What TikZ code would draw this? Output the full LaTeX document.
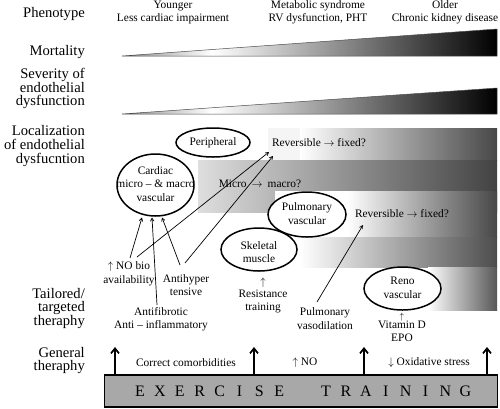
\documentclass[tikz,border=0pt]{standalone}
\usepackage{fontspec}
\setmainfont{Liberation Serif}
\usetikzlibrary{arrows.meta,shapes.geometric}
\pgfdeclarehorizontalshading{wedgeshade}{100bp}{color(0bp)=(black!45); color(25bp)=(black!45); color(37bp)=(white); color(75bp)=(black); color(100bp)=(black)}
\begin{document}
\begin{tikzpicture}[x=1pt,y=-1pt,
  lab/.style={font=\fontsize{14.6}{13.7}\selectfont, align=right, anchor=east, inner sep=0pt},
  txt/.style={font=\fontsize{11.4}{13.5}\selectfont, align=center, inner sep=0pt},
  ell/.style={ellipse, draw, line width=1.5pt, fill=white, inner sep=0pt},
  thinarrow/.style={line width=0.7pt, -{Straight Barb[length=3pt,width=3.5pt]}},
  bigarrow/.style={line width=1.7pt, -{Straight Barb[length=5pt,width=8pt]}},
  exl/.style={font=\fontsize{16}{16}\selectfont, inner sep=0pt}
]
\useasboundingbox (0,0) rectangle (500,408);

% ---- background bands ----
\fill[black!4] (268,128) rectangle (300,160);
\shade[left color=white,right color=black!72] (300,128) rectangle (497,160);
\shade[left color=black!13,right color=black!74] (198,160) rectangle (497,212);
\fill[white] (275,191) rectangle (347,237);
\shade[left color=white,right color=black!72] (347,191) rectangle (497,237);
\shade[left color=white,right color=black!70] (300,237) rectangle (497,267);
\shade[left color=white,right color=black!66] (428,267) rectangle (497,310);

% ---- wedges ----
\shade[shading=wedgeshade] (122,56) -- (497,29) -- (497,56) -- cycle;
\draw[black!70,line width=0.5pt] (122,56) -- (497,29) -- (497,56) -- cycle;
\shade[shading=wedgeshade] (122,114) -- (497,88) -- (497,114) -- cycle;
\draw[black!70,line width=0.5pt] (122,114) -- (497,88) -- (497,114) -- cycle;

% ---- left labels ----
\node[lab] (lphen) at (85,14) {Phenotype};
\node[lab] (lmort) at (85,52) {Mortality};
\node[lab] (lsev) at (85,88.5) {Severity of\\endothelial\\dysfunction};
\node[lab] (lloc) at (85,146) {Localization\\of endothelial\\dysfucntion};
\node[lab] (ltail) at (85,308.5) {Tailored/\\targeted\\theraphy};
\node[lab] (lgen) at (85,360.5) {General\\theraphy};

% ---- header ----
\node[txt] (hyoung) at (173,12.5) {Younger\\Less cardiac impairment};
\node[txt] (hmeta) at (318,12.5) {Metabolic syndrome\\RV dysfunction, PHT};
\node[txt] (hold) at (445,12.5) {Older\\Chronic kidney disease};

% ---- ellipses ----
\node[ell, minimum width=74pt, minimum height=29pt] (eper) at (213,142.5) {};
\node[ell, minimum width=77pt, minimum height=62pt] (ecar) at (155.5,185) {};
\node[ell, minimum width=78pt, minimum height=45pt] (epul) at (307,214.5) {};
\node[ell, minimum width=76pt, minimum height=43pt] (eske) at (259,249.5) {};
\node[ell, minimum width=77pt, minimum height=43pt] (eren) at (402.5,288.5) {};

\node[txt] (tper) at (213,142.5) {Peripheral};
\node[txt] (tcar) at (155.5,184) {Cardiac\\micro -- \& macro\\vascular};
\node[txt] (tpul) at (307,213.5) {Pulmonary\\vascular};
\node[txt] (tske) at (259,252) {Skeletal\\muscle};
\node[txt] (tren) at (402.5,288) {Reno\\vascular};

% ---- band texts ----
\node[txt] (rev1) at (319,143) {Reversible $\rightarrow$ fixed?};
\node[txt] (micro) at (260,184) {Micro\hspace{5pt}$\rightarrow$\hspace{5pt}macro?};
\node[txt] (rev2) at (402,214) {Reversible $\rightarrow$ fixed?};

% ---- therapy texts ----
\node[txt] (nobio) at (129,274) {$\uparrow$ NO bio\\availability};
\node[txt] (antihyp) at (186,285) {Antihyper\\tensive};
\node[txt] (antifib) at (161,319) {Antifibrotic\\Anti -- inflammatory};
\node[txt] (uparr1) at (263,283) {$\uparrow$};
\node[txt] (resist) at (263,301.5) {Resistance\\training};
\node[txt] (pulvaso) at (325,318.5) {Pulmonary\\vasodilation};
\node[txt,font=\fontsize{9}{9}\selectfont] (uparr2) at (402,317.5) {$\uparrow$};
\node[txt] (vitd) at (402,331.5) {Vitamin D\\EPO};

% ---- general therapy texts ----
\node[txt] (corr) at (186,363) {Correct comorbidities};
\node[txt] (no) at (305,363) {$\uparrow$ NO};
\node[txt] (oxid) at (429,363) {$\downarrow$ Oxidative stress};

% ---- exercise box ----
\node[draw, line width=1.6pt, fill=black!34, minimum width=393pt, minimum height=32pt, inner sep=0pt] (ex) at (301,391) {};
\foreach \l [count=\i] in {E,X,E,R,C,I,S,E}
  \node[exl] (la\i) at ({140+(\i-1)*19.9},391.5) {\l};
\foreach \l [count=\i] in {T,R,A,I,N,I,N,G}
  \node[exl] (lb\i) at ({326+(\i-1)*19.9},391.5) {\l};

% ---- thick arrows ----
\coordinate (t1) at (115,347);
\coordinate (t2) at (254,347);
\coordinate (t3) at (364,347);
\coordinate (t4) at (487,347);
\foreach \k in {1,2,3,4}
  \draw[bigarrow] (ex.north -| t\k) -- (t\k);

% ---- thin arrows ----
\coordinate (cA) at (142,217.5);
\coordinate (cB) at (152,217.5);
\coordinate (cC) at (162,217.5);
\coordinate (sA) at (130,258);
\coordinate (sD) at (137,257);
\coordinate (sB) at (157,305);
\coordinate (sC) at (180,265);
\coordinate (sE) at (185,263);
\coordinate (rA) at (269,152);
\coordinate (rB) at (273,156);
\coordinate (sF) at (317,302);
\coordinate (rC) at (363,225);
\draw[thinarrow] (sA) -- (cA);
\draw[thinarrow] (sB) -- (cB);
\draw[thinarrow] (sC) -- (cC);
\draw[thinarrow] (sD) -- (rA);
\draw[thinarrow] (sE) -- (rB);
\draw[thinarrow] (sF) -- (rC);
\end{tikzpicture}
\end{document}
